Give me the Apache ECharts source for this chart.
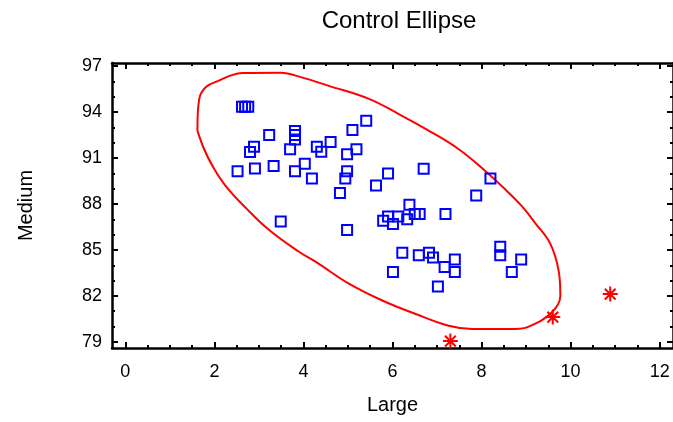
<!DOCTYPE html>
<html>
<head>
<meta charset="utf-8">
<script src="https://cdn.jsdelivr.net/npm/echarts@6/dist/echarts.min.js"></script>
<style>
html,body{margin:0;padding:0;background:#fff;}
#chart{width:673px;height:422px;}
</style>
</head>
<body>
<div id="chart"></div>
<script>
// points inside the ellipse
var largeVals=[2.62,2.69,2.76,3.23,3.81,3.81,3.81,2.89,2.80,3.70,4.30,4.40,4.61,5.10,5.41,5.19,4.98,2.52,2.91,3.33,3.81,4.03,4.19,4.98,4.94,4.82,5.90,5.63,3.49,4.98,6.70,8.20,7.88,6.38,5.79,5.90,6.01,6.13,6.33,6.50,6.61,7.19,6.22,6.59,6.82,6.91,7.40,7.17,7.40,6.01,7.02,8.42,8.42,8.89,8.68];
var mediumVals=[94.35,94.35,94.35,92.5,92.77,92.5,92.2,91.74,91.39,91.57,91.74,91.41,92.05,92.82,93.43,91.57,91.24,90.14,90.32,90.47,90.14,90.62,89.66,90.14,89.66,88.72,89.99,89.2,86.85,86.3,90.3,89.66,88.56,87.95,86.9,87.18,86.7,87.18,87.0,87.34,87.34,87.34,84.81,84.66,84.81,84.5,84.37,83.89,83.56,83.56,82.62,85.2,84.66,84.37,83.56];
// points outside
var outLarge=[7.30,9.60,10.89];
var outMedium=[79.05,80.62,82.12];
// control ellipse outline
var ellLarge=[1.62,1.62,1.66,1.81,2.11,2.37,2.63,3.49,3.94,4.57,5.47,6.14,6.89,7.49,8.09,8.54,8.91,9.21,9.54,9.73,9.77,9.58,9.06,8.76,7.79,7.26,6.52,5.77,5.02,4.28,3.90,3.23,2.71,2.26,1.96,1.77,1.62];
var ellMedium=[92.77,93.10,94.86,95.63,96.06,96.39,96.55,96.57,96.28,95.71,94.86,93.87,92.66,91.57,90.14,88.93,87.84,86.74,85.43,83.67,82.03,80.93,79.99,79.84,79.84,80.05,80.82,81.70,82.80,84.22,84.88,86.3,87.73,89.15,90.47,91.57,92.77];
// ticks
var xMajor=[0,2,4,6,8,10,12];
var xMinor=[0,0.5,1,1.5,2,2.5,3,3.5,4,4.5,5,5.5,6,6.5,7,7.5,8,8.5,9,9.5,10,10.5,11,11.5,12];
var yMajor=[79,82,85,88,91,94,97];
var yMinor=[79,80,81,82,83,84,85,86,87,88,89,90,91,92,93,94,95,96,97];

var chart=echarts.init(document.getElementById('chart'));
var font='"Liberation Sans", Arial, sans-serif';

function pairs(a,b){
	var r=[];
	for(var i=0;i<a.length;i++){ r.push([a[i],b[i]]); }
	return r;
}

function axis(pos,min,max,ticks,len,line,labels){
	var ax={
		type:'value',position:pos,min:min,max:max,
		splitLine:{show:false},
		axisLine:{show:line,onZero:false,lineStyle:{color:'#000',width:2.5}},
		axisTick:{show:true,inside:true,length:len,customValues:ticks,lineStyle:{color:'#000',width:2}},
		axisLabel:{show:!!labels,customValues:labels||[],color:'#000',fontFamily:font,fontSize:18,margin:pos=='bottom'?15:10}
	};
	return ax;
}

var xs=[
	axis('bottom',-0.3,12.3,xMajor,6,true,xMajor),
	axis('bottom',-0.3,12.3,xMinor,3,false),
	axis('top',-0.3,12.3,xMajor,6,true),
	axis('top',-0.3,12.3,xMinor,3,false)
];
xs[0].name='Large';
xs[0].nameLocation='middle';
xs[0].nameGap=47;
xs[0].nameTextStyle={color:'#000',fontFamily:font,fontSize:20};

var ys=[
	axis('left',78.6,97.2,yMajor,6,true,yMajor),
	axis('left',78.6,97.2,yMinor,3,false),
	axis('right',78.6,97.2,yMajor,6,true),
	axis('right',78.6,97.2,yMinor,3,false)
];
ys[0].name='Medium';
ys[0].nameLocation='middle';
ys[0].nameGap=76;
ys[0].nameRotate=90;
ys[0].nameTextStyle={color:'#000',fontFamily:font,fontSize:20};

var option={
	backgroundColor:'#fff',
	animation:false,
	title:{
		text:'Control Ellipse',left:394,top:4,textAlign:'center',
		textStyle:{color:'#000',fontFamily:font,fontSize:24,fontWeight:'normal'}
	},
	grid:{left:112,top:63,width:562,height:285},
	xAxis:xs,
	yAxis:ys,
	series:[
		{
			type:'line',
			data:pairs(ellLarge,ellMedium),
			showSymbol:false,
			smooth:0.4,
			lineStyle:{color:'#ff0000',width:2},
			z:2
		},
		{
			type:'scatter',
			data:pairs(largeVals,mediumVals),
			symbol:'rect',
			symbolSize:10,
			itemStyle:{color:'rgba(0,0,0,0)',borderColor:'#0000ff',borderWidth:2,opacity:1},
			z:3
		},
		{
			type:'scatter',
			data:pairs(outLarge,outMedium),
			symbol:'path://M0,-6L0,6M-6,0L6,0M-4.3,-4.3L4.3,4.3M-4.3,4.3L4.3,-4.3',
			symbolSize:15,
			itemStyle:{color:'rgba(0,0,0,0)',borderColor:'#ff0000',borderWidth:2,opacity:1},
			z:3
		}
	]
};
chart.setOption(option);
</script>
</body>
</html>
